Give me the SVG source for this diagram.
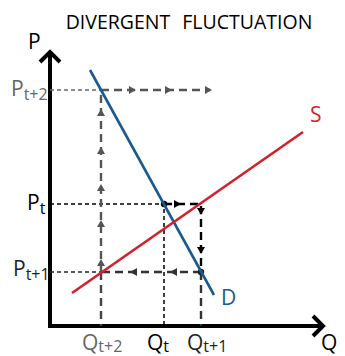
<svg xmlns="http://www.w3.org/2000/svg" xmlns:xlink="http://www.w3.org/1999/xlink" width="345" height="356" viewBox="0 0 345 356">
<style>
text{font-family:"Open Sans","Noto Sans","Liberation Sans",sans-serif}
.lab{font-size:21px}
.sub{font-size:16px}
.thin{fill:none;stroke-width:1.5;stroke-dasharray:4 3}
.thick{fill:none;stroke-width:2.4;stroke-dasharray:8 5}
.axis{fill:none;stroke:#000;stroke-width:4}
</style>
<defs>
<path id="ah" d="M0,0 L-7,-4 L-7,4 Z"/>
</defs>
<rect width="345" height="356" fill="#fff"/>
<text x="189" y="29" font-size="19.5" text-anchor="middle" fill="#000" word-spacing="7">DIVERGENT FLUCTUATION</text>

<g id="axes">
<path class="axis" d="M50,52 V326 H323"/>
<path class="axis" d="M40,62 L50,52 L60,62"/>
<path class="axis" d="M313,316 L323,326 L313,336"/>
<text class="lab" x="28" y="49">P</text>
<text class="lab" x="321" y="350">Q</text>
</g>

<g id="connectors">
<path class="thin" stroke="#666" d="M50,90 H101"/>
<path class="thin" stroke="#000" d="M50,204 H164 V326"/>
<path class="thin" stroke="#222" d="M50,272 H101"/>
<path class="thick" stroke="#333" stroke-width="2" d="M201,272 V326"/>
<path class="thick" stroke="#444" stroke-width="2" d="M101,272 V326"/>
<path class="thick" stroke="#000" d="M164,204 H201 V272"/>
<path class="thick" stroke="#333" d="M201,272 H101"/>
<path class="thick" stroke="#555" d="M101,272 V90 H210"/>
<use xlink:href="#ah" fill="#000" transform="translate(181,204)"/>
<use xlink:href="#ah" fill="#000" transform="translate(201,215) rotate(90)"/>
<use xlink:href="#ah" fill="#000" transform="translate(201,254) rotate(90)"/>
<use xlink:href="#ah" fill="#333" transform="translate(170,272) rotate(180)"/>
<use xlink:href="#ah" fill="#333" transform="translate(130,272) rotate(180)"/>
<use xlink:href="#ah" fill="#555" transform="translate(101,259) rotate(-90)"/>
<use xlink:href="#ah" fill="#555" transform="translate(101,220) rotate(-90)"/>
<use xlink:href="#ah" fill="#555" transform="translate(101,184) rotate(-90)"/>
<use xlink:href="#ah" fill="#555" transform="translate(101,147) rotate(-90)"/>
<use xlink:href="#ah" fill="#555" transform="translate(101,109) rotate(-90)"/>
<use xlink:href="#ah" fill="#555" transform="translate(136,90)"/>
<use xlink:href="#ah" fill="#555" transform="translate(172,90)"/>
<use xlink:href="#ah" fill="#555" transform="translate(212,90)"/>
<circle cx="164" cy="204" r="3.2" fill="#000"/>
<circle cx="201" cy="272" r="3.2" fill="#222"/>
</g>

<g id="demand">
<line x1="90" y1="70" x2="214" y2="295" stroke="#1b5a8e" stroke-width="2.6"/>
<text class="lab" x="221" y="305" fill="#1b5a8e">D</text>
</g>
<g id="supply">
<line x1="72" y1="293" x2="303" y2="132" stroke="#d61f2c" stroke-width="2.6"/>
<text class="lab" x="310" y="122" fill="#d61f2c">S</text>
</g>

<g id="labels">
<text class="lab" x="11" y="96" fill="#666">P<tspan class="sub" dy="4">t+2</tspan></text>
<text class="lab" x="27" y="210" fill="#000">P<tspan class="sub" dy="4">t</tspan></text>
<text class="lab" x="13" y="276" fill="#222">P<tspan class="sub" dy="4">t+1</tspan></text>
<text class="lab" x="82" y="350" fill="#666">Q<tspan class="sub" dy="2">t+2</tspan></text>
<text class="lab" x="147" y="350" fill="#000">Q<tspan class="sub" dy="2">t</tspan></text>
<text class="lab" x="187" y="350" fill="#222">Q<tspan class="sub" dy="2">t+1</tspan></text>
</g>
</svg>
